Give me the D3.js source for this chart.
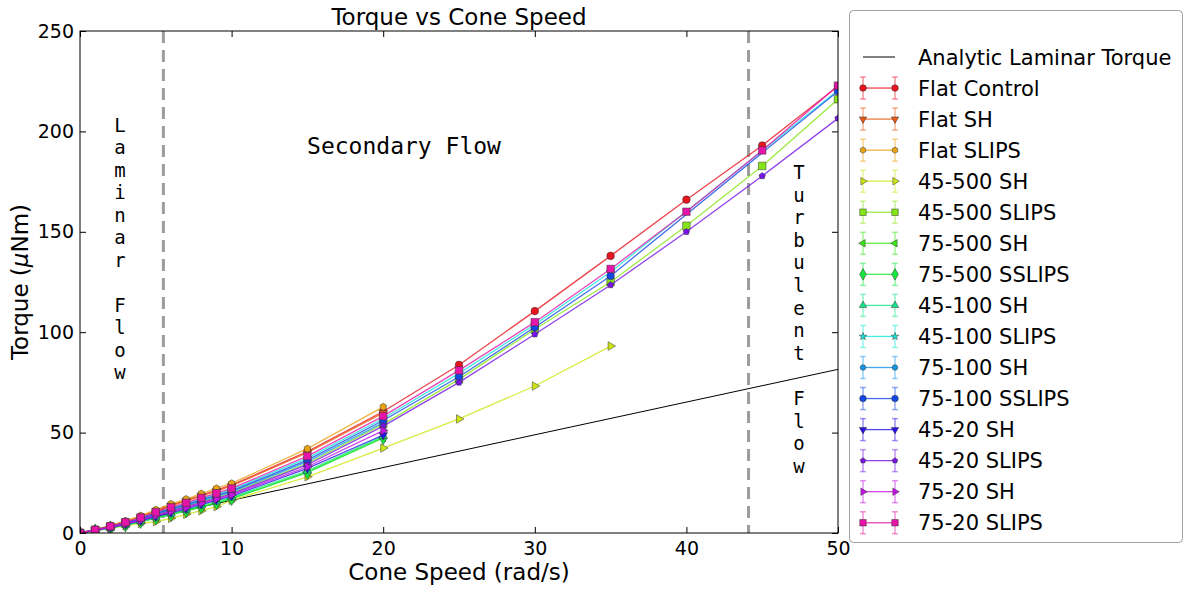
<!DOCTYPE html>
<html>
<head>
<meta charset="utf-8">
<script src="https://cdn.jsdelivr.net/npm/d3@7"></script>
<style>
  html, body { margin: 0; padding: 0; background: #fff; }
  svg { display: block; }
  text { font-family: "DejaVu Sans", sans-serif; fill: #000; }
  .mono { font-family: "DejaVu Sans Mono", monospace; }
</style>
</head>
<body>
<svg id="chart" width="1185" height="590"></svg>
<script>
// Cone speeds (rad/s) at which torque was sampled
const speedsTo20 = [0, 1, 2, 3, 4, 5, 6, 7, 8, 9, 10, 15, 20];
const speedsTo35 = [0, 1, 2, 3, 4, 5, 6, 7, 8, 9, 10, 15, 20, 25, 30, 35];
const speedsTo50 = [0, 1, 2, 3, 4, 5, 6, 7, 8, 9, 10, 15, 20, 25, 30, 35, 40, 45, 50];
const speedsSparse = [0, 1, 2, 3, 4, 5, 6, 7, 8, 9, 10, 15, 20, 25, 30, 35, 50];

// Measured torque (uNm) per surface
const flatControl   = [0, 1.7, 3.6, 5.7, 8.2, 11.0, 13.8, 16.2, 18.8, 21.3, 23.8, 40.6, 60.5, 83.7, 110.5, 138, 166, 193, 222.5];
const flatSH        = [0, 1.7, 3.5, 5.6, 8.0, 10.8, 13.5, 15.9, 18.4, 20.9, 23.4, 40.0, 59.8];
const flatSLIPS     = [0, 1.8, 3.8, 6.0, 8.6, 11.6, 14.5, 16.9, 19.6, 22.2, 24.7, 42.0, 62.8];
const sh45_500      = [0, 1.1, 2.3, 3.6, 4.8, 5.6, 7.3, 9.3, 11.1, 13.1, 16.3, 28.0, 42.3, 56.8, 73.2, 93.1];
const slips45_500   = [0, 1.5, 3.0, 4.8, 6.8, 9.1, 11.3, 13.3, 15.6, 17.8, 20.0, 34.6, 54.2, 76.5, 101.5, 125, 153, 182.8, 216];
const sh75_500      = [0, 1.2, 2.5, 4.0, 5.7, 7.5, 9.3, 11.1, 13.1, 15.1, 17.2, 30.4, 47.6];
const sslips75_500  = [0, 1.2, 2.5, 3.9, 5.6, 7.3, 9.1, 10.9, 12.9, 14.9, 17.0, 30.1, 47.3];
const sh45_100      = [0, 1.3, 2.6, 4.1, 5.9, 7.8, 9.7, 11.6, 13.7, 15.7, 17.8, 31.0, 48.2];
const slips45_100   = [0, 1.6, 3.3, 5.2, 7.5, 10.1, 12.4, 14.6, 17.0, 19.3, 21.6, 37.3, 57.0, 79.5, 103.8, 130, 220.5];
const sh75_100      = [0, 1.5, 3.1, 4.9, 7.0, 9.4, 11.6, 13.7, 16.0, 18.2, 20.5, 35.5, 55.0];
const sslips75_100  = [0, 1.5, 3.2, 5.0, 7.2, 9.7, 12.0, 14.1, 16.5, 18.7, 21.0, 36.3, 56.0, 77.8, 102.5, 128, 220];
const sh45_20       = [0, 1.3, 2.7, 4.3, 6.1, 8.2, 10.2, 12.1, 14.3, 16.4, 18.4, 32.2, 48.8];
const slips45_20    = [0, 1.4, 2.9, 4.6, 6.6, 8.8, 11.0, 13.0, 15.2, 17.3, 19.5, 34.0, 53.2, 75, 99, 123.5, 150, 177.8, 206.5];
const sh75_20       = [0, 1.4, 2.8, 4.5, 6.4, 8.6, 10.7, 12.6, 14.8, 16.9, 19.0, 33.0, 51.0];
const slips75_20    = [0, 1.6, 3.4, 5.4, 7.7, 10.4, 12.8, 15.0, 17.5, 19.8, 22.2, 38.3, 58.2, 81, 105, 131.5, 160, 190.5, 222.8];

// Analytic laminar torque (straight line through origin)
const analyticSpeed = [0, 50];
const analyticTorque = [0, 81.5];

// Flow regime boundaries (rad/s)
const regimeBounds = [5.5, 44.1];

const xTicks = [0, 10, 20, 30, 40, 50];
const yTicks = [0, 50, 100, 150, 200, 250];

const seriesLabels = ["Flat Control", "Flat SH", "Flat SLIPS", "45-500 SH", "45-500 SLIPS",
  "75-500 SH", "75-500 SSLIPS", "45-100 SH", "45-100 SLIPS", "75-100 SH", "75-100 SSLIPS",
  "45-20 SH", "45-20 SLIPS", "75-20 SH", "75-20 SLIPS"];
const seriesSpeeds = [speedsTo50, speedsTo20, speedsTo20, speedsTo35, speedsTo50,
  speedsTo20, speedsTo20, speedsTo20, speedsSparse, speedsTo20, speedsSparse,
  speedsTo20, speedsTo50, speedsTo20, speedsTo50];
const seriesTorque = [flatControl, flatSH, flatSLIPS, sh45_500, slips45_500,
  sh75_500, sslips75_500, sh45_100, slips45_100, sh75_100, sslips75_100,
  sh45_20, slips45_20, sh75_20, slips75_20];

// Rainbow palette and marker shapes, one per surface
const seriesColors = ["#e8141e", "#e85a14", "#e8a214", "#cfe614", "#84e614",
  "#3ae614", "#14e63c", "#14e68a", "#14e6d8", "#1496e6", "#1448e6",
  "#2814e6", "#7614e6", "#c414e6", "#e614a8"];
const seriesMarkers = ["circle", "triDown", "hexagon", "triRight", "square",
  "triLeft", "diamond", "triUp", "star", "circleSmall", "circle",
  "triDown", "pentagon", "triRight", "square"];

const svg = d3.select("#chart");
const plot = { left: 80, right: 838, top: 31, bottom: 533 };

const x = d3.scaleLinear().domain([0, 50]).range([plot.left, plot.right]);
const y = d3.scaleLinear().domain([0, 250]).range([plot.bottom, plot.top]);

function polygonPath(n, r, rot) {
  const pts = d3.range(n).map(i => {
    const a = rot + i * 2 * Math.PI / n;
    return [r * Math.cos(a), r * Math.sin(a)];
  });
  return "M" + pts.map(p => p[0].toFixed(2) + "," + p[1].toFixed(2)).join("L") + "Z";
}

function markerPath(kind, scale) {
  const s = scale || 1;
  switch (kind) {
    case "circle": return d3.symbol(d3.symbolCircle, 46 * s)();
    case "circleSmall": return d3.symbol(d3.symbolCircle, 32 * s)();
    case "square": return d3.symbol(d3.symbolSquare, 56 * s)();
    case "diamond": return d3.symbol(d3.symbolDiamond, 52 * s)();
    case "star": return d3.symbol(d3.symbolStar, 24 * s)();
    case "hexagon": return polygonPath(6, 3.6 * Math.sqrt(s), Math.PI / 2);
    case "pentagon": return polygonPath(5, 3.4 * Math.sqrt(s), -Math.PI / 2);
    default: return d3.symbol(d3.symbolTriangle, 32 * s)();
  }
}
function markerRotation(kind) {
  if (kind === "triDown") return 180;
  if (kind === "triRight") return 90;
  if (kind === "triLeft") return -90;
  return 0;
}

// Frame clip so lines stay inside the axes
svg.append("defs").append("clipPath").attr("id", "plotClip")
  .append("rect").attr("x", plot.left).attr("y", plot.top)
  .attr("width", plot.right - plot.left).attr("height", plot.bottom - plot.top);

const body = svg.append("g").attr("clip-path", "url(#plotClip)");

// Regime boundaries
body.selectAll("line.regime").data(regimeBounds).join("line")
  .attr("class", "regime")
  .attr("x1", d => x(d)).attr("x2", d => x(d))
  .attr("y1", plot.top).attr("y2", plot.bottom)
  .attr("stroke", "#9c9c9c").attr("stroke-width", 3)
  .attr("stroke-dasharray", "12,7");

// Analytic laminar torque
const analyticLine = d3.line().x(d => x(d[0])).y(d => y(d[1]));
body.append("path")
  .attr("d", analyticLine(analyticSpeed.map((s, i) => [s, analyticTorque[i]])))
  .attr("fill", "none").attr("stroke", "#000").attr("stroke-width", 1);

// Measured series
const seriesLine = d3.line().x(d => x(d[0])).y(d => y(d[1]));
seriesLabels.forEach((label, k) => {
  const pts = seriesSpeeds[k].map((s, i) => [s, seriesTorque[k][i]]);
  const g = body.append("g");
  g.append("path").attr("d", seriesLine(pts))
    .attr("fill", "none").attr("stroke", seriesColors[k])
    .attr("stroke-width", 1.3).attr("stroke-opacity", 0.8);
  g.selectAll("path.mk").data(pts).join("path").attr("class", "mk")
    .attr("d", markerPath(seriesMarkers[k]))
    .attr("transform", d => `translate(${x(d[0])},${y(d[1])}) rotate(${markerRotation(seriesMarkers[k])})`)
    .attr("fill", seriesColors[k]).attr("stroke", "#333").attr("stroke-width", 0.5);
});

// Region annotations (monospace, stacked letters for vertical words)
svg.append("text").attr("class", "mono")
  .attr("x", 404).attr("y", 154).attr("text-anchor", "middle")
  .attr("font-size", 23).text("Secondary Flow");

function stackedText(chars, cx, firstBaseline, step) {
  const t = svg.append("text").attr("class", "mono").attr("font-size", 19)
    .attr("text-anchor", "middle");
  chars.forEach((c, i) => {
    t.append("tspan").attr("x", cx).attr("y", firstBaseline + i * step).text(c);
  });
}
stackedText("Laminar Flow".split("").map(c => c === " " ? "\u00a0" : c), 120, 132, 22.45);
stackedText("Turbulent Flow".split("").map(c => c === " " ? "\u00a0" : c), 799, 179, 22.6);

// Frame
svg.append("rect").attr("x", plot.left).attr("y", plot.top)
  .attr("width", plot.right - plot.left).attr("height", plot.bottom - plot.top)
  .attr("fill", "none").attr("stroke", "#000").attr("stroke-width", 1);

// Axes with inward ticks on all sides
const tickLen = 6;
const axB = svg.append("g").attr("transform", `translate(0,${plot.bottom})`)
  .call(d3.axisBottom(x).tickValues(xTicks).tickSizeInner(-tickLen).tickSizeOuter(0).tickPadding(9));
const axT = svg.append("g").attr("transform", `translate(0,${plot.top})`)
  .call(d3.axisTop(x).tickValues(xTicks).tickSizeInner(-tickLen).tickSizeOuter(0).tickFormat(""));
const axL = svg.append("g").attr("transform", `translate(${plot.left},0)`)
  .call(d3.axisLeft(y).tickValues(yTicks).tickSizeInner(-tickLen).tickSizeOuter(0).tickPadding(6));
const axR = svg.append("g").attr("transform", `translate(${plot.right},0)`)
  .call(d3.axisRight(y).tickValues(yTicks).tickSizeInner(-tickLen).tickSizeOuter(0).tickFormat(""));
[axB, axT, axL, axR].forEach(a => {
  a.select(".domain").remove();
  a.selectAll("text").attr("font-family", "DejaVu Sans").attr("font-size", 19).attr("fill", "#000");
  a.selectAll("line").attr("stroke", "#000");
});

// Titles
svg.append("text").attr("x", (plot.left + plot.right) / 2).attr("y", 25)
  .attr("text-anchor", "middle").attr("font-size", 23).text("Torque vs Cone Speed");
svg.append("text").attr("x", (plot.left + plot.right) / 2).attr("y", 580)
  .attr("text-anchor", "middle").attr("font-size", 23).text("Cone Speed (rad/s)");
const yl = svg.append("text").attr("transform", "translate(28,282) rotate(-90)")
  .attr("text-anchor", "middle").attr("font-size", 23);
yl.append("tspan").text("Torque (");
yl.append("tspan").attr("font-style", "italic").text("\u03bc");
yl.append("tspan").text("Nm)");

// Legend
const legend = svg.append("g");
legend.append("rect").attr("x", 849.5).attr("y", 10.5).attr("width", 333).attr("height", 532)
  .attr("rx", 4).attr("fill", "#fff").attr("stroke", "#a0a0a0").attr("stroke-width", 1);
const legX0 = 863, legX1 = 895, legText = 918, legY0 = 57, legStep = 31.05;
legend.append("line").attr("x1", legX0).attr("x2", legX1).attr("y1", legY0).attr("y2", legY0)
  .attr("stroke", "#000").attr("stroke-width", 1);
legend.append("text").attr("x", legText).attr("y", legY0 + 7.5).attr("font-size", 21)
  .text("Analytic Laminar Torque");
seriesLabels.forEach((label, k) => {
  const cy = legY0 + (k + 1) * legStep;
  const g = legend.append("g");
  [legX0, legX1].forEach(px => {
    g.append("line").attr("x1", px).attr("x2", px).attr("y1", cy - 11).attr("y2", cy + 11)
      .attr("stroke", seriesColors[k]).attr("stroke-opacity", 0.45).attr("stroke-width", 1.5);
    [cy - 11, cy + 11].forEach(cap => g.append("line")
      .attr("x1", px - 3).attr("x2", px + 3).attr("y1", cap).attr("y2", cap)
      .attr("stroke", seriesColors[k]).attr("stroke-opacity", 0.45).attr("stroke-width", 1.5));
  });
  g.append("line").attr("x1", legX0).attr("x2", legX1).attr("y1", cy).attr("y2", cy)
    .attr("stroke", seriesColors[k]).attr("stroke-width", 1.3).attr("stroke-opacity", 0.8);
  [legX0, legX1].forEach(px => g.append("path")
    .attr("d", markerPath(seriesMarkers[k], 0.75))
    .attr("transform", `translate(${px},${cy}) rotate(${markerRotation(seriesMarkers[k])})`)
    .attr("fill", seriesColors[k]).attr("stroke", "#333").attr("stroke-width", 0.5));
  g.append("text").attr("x", legText).attr("y", cy + 7.5).attr("font-size", 21).text(label);
});
</script>
</body>
</html>
